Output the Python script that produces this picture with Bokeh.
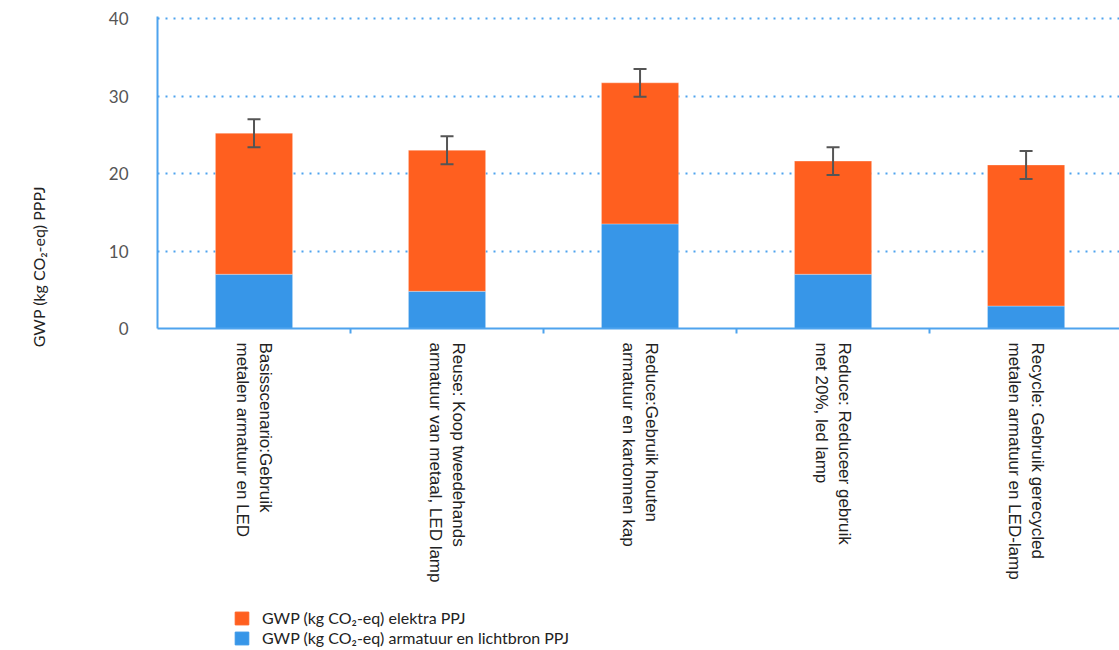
import math
from bokeh.plotting import figure
from bokeh.layouts import column
from bokeh.models import (ColumnDataSource, Range1d, FixedTicker, Whisker, TeeHead,
                          Legend, LegendItem)
from bokeh.embed import file_html
from bokeh.resources import INLINE

categories = [
    "Basisscenario:Gebruik\nmetalen armatuur en LED",
    "Reuse: Koop tweedehands\narmatuur van metaal, LED lamp",
    "Reduce:Gebruik houten\narmatuur en kartonnen kap",
    "Reduce: Reduceer gebruik\nmet 20%, led lamp",
    "Recycle: Gebruik gerecycled\nmetalen armatuur en LED-lamp",
]
armatuur = [7.0, 4.8, 13.5, 7.0, 2.9]
elektra = [18.2, 18.2, 18.2, 14.6, 18.2]
error = [1.8, 1.8, 1.8, 1.8, 1.8]
y_ticks = [0, 10, 20, 30, 40]

series_labels = ["GWP (kg CO₂-eq) elektra PPJ",
                 "GWP (kg CO₂-eq) armatuur en lichtbron PPJ"]
y_label = "GWP (kg CO₂-eq) PPPJ"

ORANGE = "#FF5F1F"
BLUE = "#3796E8"
AXIS_BLUE = "#4EA3EE"

xpos = [i + 0.5 for i in range(len(categories))]
totals = [a + e for a, e in zip(armatuur, elektra)]

src = ColumnDataSource(dict(
    x=xpos, armatuur=armatuur, elektra=elektra,
    upper=[t + d for t, d in zip(totals, error)],
    lower=[t - d for t, d in zip(totals, error)],
))

p = figure(width=1119, height=600, output_backend="svg", toolbar_location=None,
           x_range=Range1d(0, 4.984), y_range=Range1d(0, 40.26),
           min_border_left=157, min_border_right=0, min_border_top=16,
           min_border_bottom=272)
p.outline_line_color = None

rs = p.vbar_stack(["armatuur", "elektra"], x="x", width=0.4, source=src,
                  color=[BLUE, ORANGE], line_color="white", line_alpha=0.3,
                  line_width=1)

p.add_layout(Whisker(source=src, base="x", upper="upper", lower="lower",
                     dimension="height", line_color="#555555", line_width=2,
                     level="overlay",
                     upper_head=TeeHead(size=13, line_color="#555555", line_width=2),
                     lower_head=TeeHead(size=13, line_color="#555555", line_width=2)))

# y axis
yax = p.yaxis[0]
yax.ticker = FixedTicker(ticks=y_ticks)
yax.axis_line_color = AXIS_BLUE
yax.axis_line_width = 2
yax.major_tick_line_color = None
yax.minor_tick_line_color = None
yax.major_label_standoff = 23
yax.major_label_text_font = "Lato"
yax.major_label_text_font_size = "17px"
yax.major_label_text_color = "#555555"
# trailing no-break spaces move the centred label down toward the axis foot
yax.axis_label = y_label + "\u00a0" * 46
yax.axis_label_text_font = "Lato"
yax.axis_label_text_font_size = "16px"
yax.axis_label_text_font_style = "normal"
yax.axis_label_text_color = "#222222"
yax.axis_label_standoff = 58

# x axis
xax = p.xaxis[0]
xax.ticker = FixedTicker(ticks=xpos, minor_ticks=[1, 2, 3, 4, 5])
xax.major_label_overrides = {x: c for x, c in zip(xpos, categories)}
xax.major_label_orientation = -math.pi / 2
xax.axis_line_color = AXIS_BLUE
xax.axis_line_width = 2
xax.major_tick_line_color = None
xax.minor_tick_line_color = AXIS_BLUE
xax.minor_tick_line_width = 2
xax.minor_tick_out = 5
xax.minor_tick_in = 0
xax.major_label_standoff = 8
xax.major_label_text_font = "Liberation Sans"
xax.major_label_text_font_size = "17px"
xax.major_label_text_color = "#222222"

p.xgrid.grid_line_color = None
p.ygrid.ticker = FixedTicker(ticks=y_ticks[1:])
p.ygrid.grid_line_color = AXIS_BLUE
p.ygrid.grid_line_width = 2
p.ygrid.grid_line_dash = "2 6"

# legend panel (hidden copies of the two series provide the swatches)
lp = figure(width=1119, height=50, output_backend="svg", toolbar_location=None,
            x_range=Range1d(0, 1), y_range=Range1d(0, 1),
            x_axis_location=None, y_axis_location=None,
            min_border_left=0, min_border_right=0, min_border_top=0,
            min_border_bottom=0)
lp.outline_line_color = None
lp.xgrid.visible = False
lp.ygrid.visible = False
lrs = lp.vbar_stack(["armatuur", "elektra"], x="x", width=0.4, source=src,
                    color=[BLUE, ORANGE], visible=False)

legend = Legend(items=[LegendItem(label=series_labels[0], renderers=[lrs[1]]),
                       LegendItem(label=series_labels[1], renderers=[lrs[0]])],
                location=(76, 3), orientation="vertical",
                border_line_color=None, background_fill_alpha=0,
                inactive_fill_alpha=0,
                padding=0, margin=0, spacing=1,
                glyph_width=17, glyph_height=16, label_height=16,
                label_standoff=12, label_text_font="Lato",
                label_text_font_size="16px", label_text_color="#222222")
lp.add_layout(legend)

layout = column(p, lp, spacing=0)
open("out.html", "w").write(file_html(layout, INLINE))
